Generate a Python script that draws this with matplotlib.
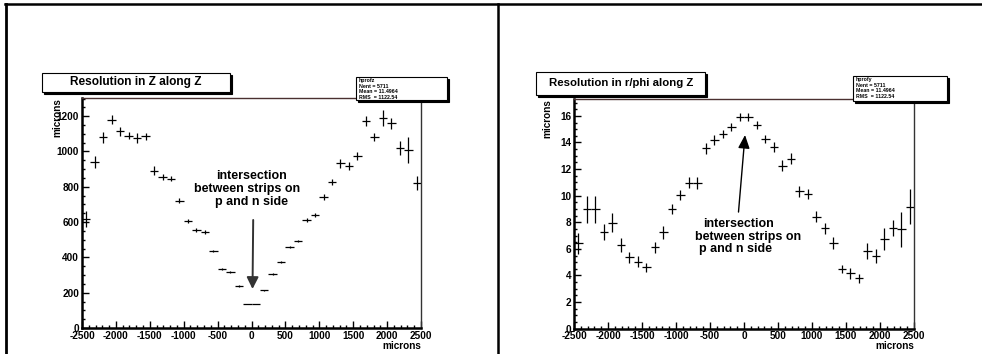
import numpy as np
import matplotlib
matplotlib.use('Agg')
import matplotlib.pyplot as plt
from matplotlib.lines import Line2D
from matplotlib.patches import Rectangle
from matplotlib.ticker import MultipleLocator

plt.rcParams['font.family'] = ['Liberation Sans', 'DejaVu Sans']
plt.rcParams['font.weight'] = 'bold'
plt.rcParams['axes.unicode_minus'] = False

# bin centres (microns), 40 bins of 125
z_bins = [-2437.5, -2312.5, -2187.5, -2062.5, -1937.5, -1812.5, -1687.5, -1562.5,
          -1437.5, -1312.5, -1187.5, -1062.5, -937.5, -812.5, -687.5, -562.5,
          -437.5, -312.5, -187.5, -62.5, 62.5, 187.5, 312.5, 437.5,
          562.5, 687.5, 812.5, 937.5, 1062.5, 1187.5, 1312.5, 1437.5,
          1562.5, 1687.5, 1812.5, 1937.5, 2062.5, 2187.5, 2312.5, 2437.5]

# resolution in Z along Z
res_z = [620, 940, 1080, 1180, 1115, 1090, 1075, 1085, 890, 855, 845, 722,
         608, 555, 544, 436, 334, 317, 238, 136, 136, 215, 306, 374,
         459, 493, 612, 640, 742, 827, 934, 918, 974, 1172, 1081, 1191,
         1160, 1020, 1008, 823]
err_z = [45, 32, 30, 25, 25, 20, 28, 22, 25, 15, 15, 15,
         12, 10, 10, 8, 5, 4, 4, 2, 2, 3, 4, 6,
         8, 8, 10, 12, 15, 15, 25, 25, 25, 30, 22, 45,
         30, 40, 72, 40]

# resolution in r/phi along Z
res_rphi = [6.42, 8.98, 8.98, 7.25, 7.97, 6.29, 5.37, 5.04, 4.62, 6.12, 7.25, 9.0,
            10.05, 10.98, 10.98, 13.55, 14.19, 14.64, 15.19, 15.89, 15.89, 15.32, 14.28, 13.65,
            12.26, 12.78, 10.32, 10.13, 8.42, 7.55, 6.42, 4.49, 4.16, 3.79, 5.86, 5.47,
            6.74, 7.55, 7.47, 9.17]
err_rphi = [0.8, 1.0, 1.0, 0.6, 0.7, 0.5, 0.4, 0.4, 0.35, 0.4, 0.5, 0.4,
            0.4, 0.4, 0.45, 0.4, 0.4, 0.3, 0.3, 0.3, 0.3, 0.3, 0.3, 0.4,
            0.4, 0.4, 0.4, 0.4, 0.4, 0.4, 0.45, 0.3, 0.4, 0.35, 0.6, 0.55,
            0.8, 0.6, 1.3, 1.3]

stats_lines = ['Nent = 5711', 'Mean = 11.4964', 'RMS  = 1122.54']

W, H = 982, 354
fig = plt.figure(figsize=(W / 100, H / 100), dpi=100)


def fx(px):
    return px / W


def fy(py):
    return 1 - py / H


def box(x0, y0, x1, y1, shadow=2):
    # ROOT style pave with a shadow on the right and bottom
    fig.add_artist(Rectangle((fx(x0 + shadow), fy(y1 + shadow)), fx(x1 - x0), (y1 - y0) / H,
                             transform=fig.transFigure, facecolor='black', edgecolor='black', lw=0.8))
    fig.add_artist(Rectangle((fx(x0), fy(y1)), fx(x1 - x0), (y1 - y0) / H,
                             transform=fig.transFigure, facecolor='white', edgecolor='black', lw=0.8))


def setup(ax, ymax, ymaj, ymin):
    ax.set_xlim(-2500, 2500)
    ax.set_ylim(0, ymax)
    ax.xaxis.set_major_locator(MultipleLocator(500))
    ax.xaxis.set_minor_locator(MultipleLocator(100))
    ax.yaxis.set_major_locator(MultipleLocator(ymaj))
    ax.yaxis.set_minor_locator(MultipleLocator(ymin))
    ax.tick_params(which='both', direction='in', top=False, right=False, labelsize=7.2, pad=2)
    ax.tick_params(which='major', length=5, width=1)
    ax.tick_params(which='minor', length=2.5, width=1)
    for lab in ax.get_xticklabels() + ax.get_yticklabels():
        lab.set_fontweight('bold')
    ax.spines['left'].set_linewidth(1.8)
    ax.spines['bottom'].set_linewidth(1.8)
    ax.spines['top'].set_linewidth(1.0)
    ax.spines['top'].set_color('#4a3030')
    ax.spines['right'].set_linewidth(1.0)
    ax.spines['right'].set_color('#333333')


# left panel
ax1 = fig.add_axes([fx(82), fy(328), fx(339), 230 / H])
ax1.errorbar(z_bins, res_z, xerr=62.5, yerr=err_z, fmt='none', ecolor='black', elinewidth=0.9)
setup(ax1, 1303, 200, 50)
ax1.set_ylabel('microns', loc='top', fontsize=7.2, fontweight='bold')
ax1.yaxis.set_label_coords((62 - 82) / 339, 1.0)
ax1.set_xlabel('microns', loc='right', fontsize=7.2, fontweight='bold', labelpad=0)
ax1.xaxis.set_label_coords(1.0, -(341 - 328) / 230)
ax1.text(5, 861, 'intersection', ha='center', va='center', fontsize=9, fontweight='bold')
ax1.text(-66, 788, 'between strips on', ha='center', va='center', fontsize=9, fontweight='bold')
ax1.text(7, 714, 'p and n side', ha='center', va='center', fontsize=9, fontweight='bold')
ax1.annotate('', xy=(15, 221), xytext=(25, 612),
             arrowprops=dict(arrowstyle='-|>,head_length=0.7,head_width=0.35', mutation_scale=10,
                             color='#333333', lw=1.4, shrinkA=0, shrinkB=0))

# right panel
ax2 = fig.add_axes([fx(574), fy(328.7), fx(340), 229.7 / H])
ax2.errorbar(z_bins, res_rphi, xerr=62.5, yerr=err_rphi, fmt='none', ecolor='black', elinewidth=0.9)
setup(ax2, 17.27, 2, 0.5)
ax2.set_ylabel('microns', loc='top', fontsize=7.2, fontweight='bold')
ax2.yaxis.set_label_coords((552 - 574) / 340, 1.0)
ax2.set_xlabel('microns', loc='right', fontsize=7.2, fontweight='bold', labelpad=0)
ax2.xaxis.set_label_coords(1.0, -(341 - 328.7) / 229.7)
ax2.text(-88, 7.87, 'intersection', ha='center', va='center', fontsize=9, fontweight='bold')
ax2.text(59, 6.92, 'between strips on', ha='center', va='center', fontsize=9, fontweight='bold')
ax2.text(-132, 5.99, 'p and n side', ha='center', va='center', fontsize=9, fontweight='bold')
ax2.annotate('', xy=(15, 14.56), xytext=(-81, 8.77),
             arrowprops=dict(arrowstyle='-|>,head_length=0.8,head_width=0.35', mutation_scale=10,
                             color='black', lw=1.0, shrinkA=0, shrinkB=0))

# title paves
box(42, 73, 230, 92)
fig.text(fx(136), fy(82.5), 'Resolution in Z along Z', ha='center', va='center', fontsize=8.6, fontweight='bold')
box(536, 72, 705, 95)
fig.text(fx(621), fy(83.5), 'Resolution in r/phi along Z', ha='center', va='center', fontsize=8.2, fontweight='bold')

# stats paves
for (x0, y0, x1, y1, name) in [(356, 77, 447, 100, 'hprofz'), (853, 76, 947, 101, 'hprofy')]:
    box(x0, y0, x1, y1, shadow=1.5)
    for k, s in enumerate([name] + stats_lines):
        fig.text(fx(x0 + 3), fy(y0 + 3.5 + k * 5.6), s, ha='left', va='center', fontsize=3.8, fontweight='bold')

# canvas pad borders
fig.add_artist(Line2D([fx(5), 1], [fy(4), fy(4)], transform=fig.transFigure, color='black', lw=1.8))
fig.add_artist(Line2D([fx(6.3), fx(6.3)], [0, fy(4)], transform=fig.transFigure, color='black', lw=2))
fig.add_artist(Line2D([fx(498.3), fx(498.3)], [0, fy(4)], transform=fig.transFigure, color='black', lw=1.8))

plt.savefig('out.png', dpi=100)
